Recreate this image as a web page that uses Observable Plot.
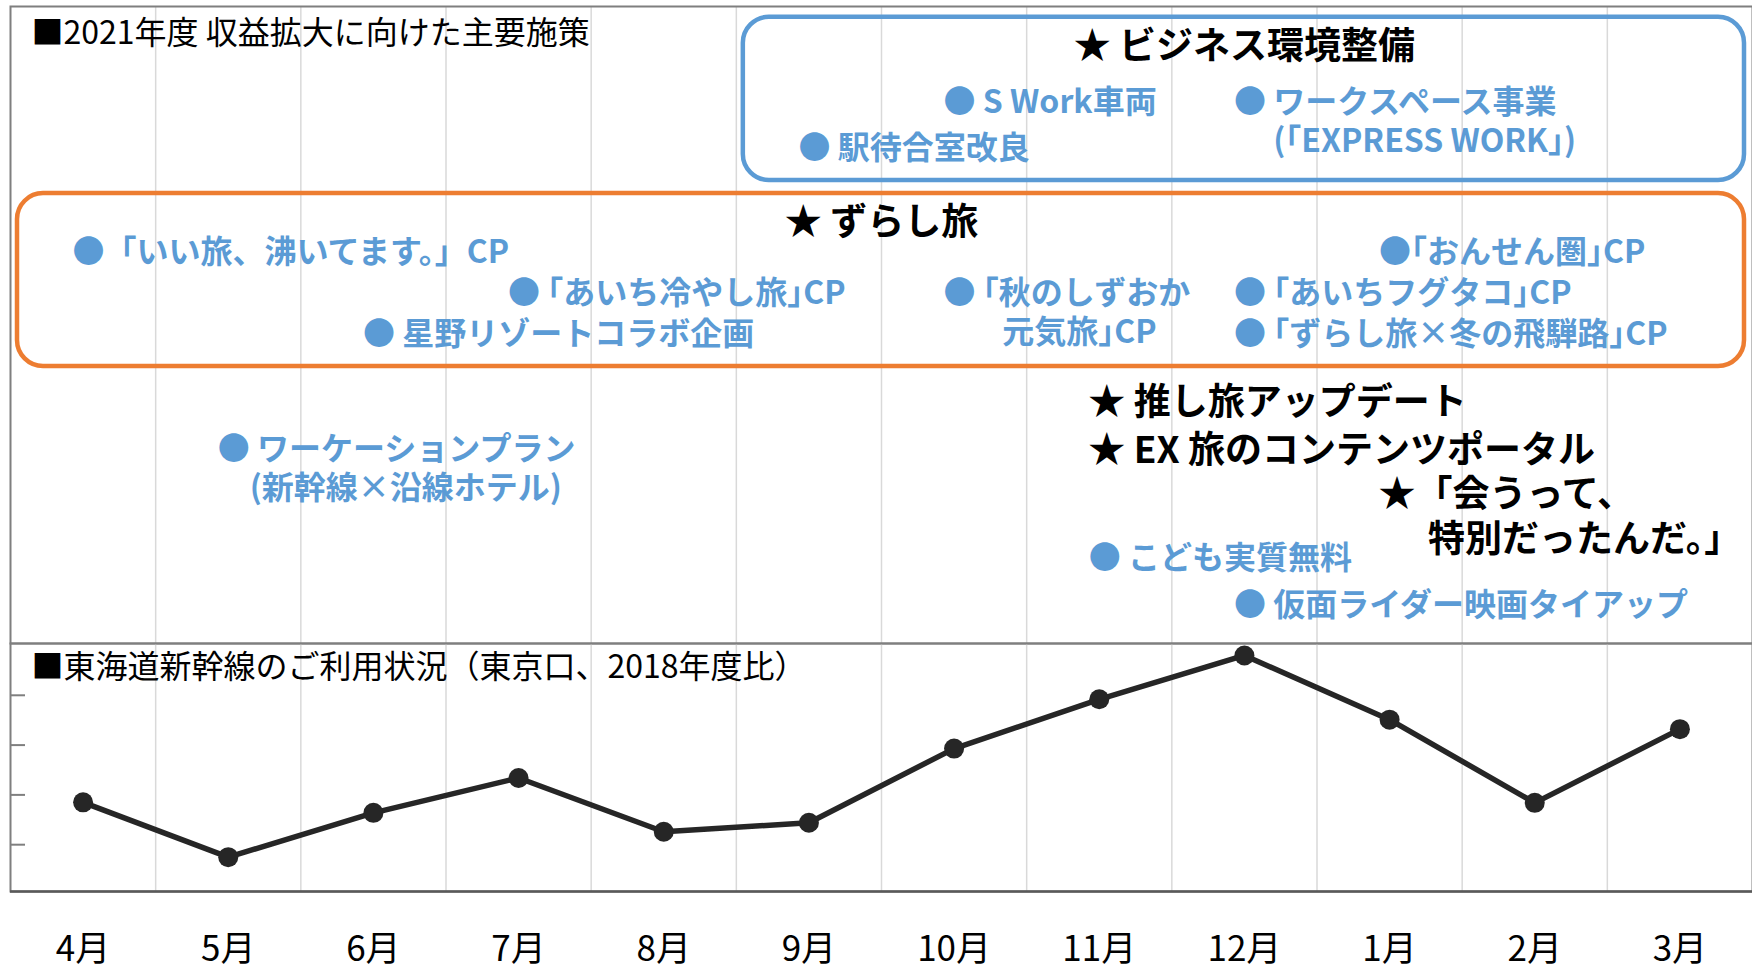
<!DOCTYPE html>
<html>
<head>
<meta charset="utf-8">
<script src="https://cdn.jsdelivr.net/npm/d3@7"></script>
<script src="https://cdn.jsdelivr.net/npm/@observablehq/plot@0.6"></script>
<style>
  html, body { margin: 0; padding: 0; background: #ffffff; }
  #chart { width: 1752px; }
  #chart svg { display: block; }
</style>
</head>
<body>
<div id="chart"></div>
<script>
// ---------------- data ----------------
const months = ["4月", "5月", "6月", "7月", "8月", "9月", "10月", "11月", "12月", "1月", "2月", "3月"];
// 東海道新幹線のご利用状況（東京口、2018年度比）
const usage = [38.5, 27.5, 36.4, 43.4, 32.6, 34.4, 49.3, 59.2, 68.0, 55.1, 38.4, 53.2];
const usageTicks = [30, 40, 50, 60];
const usageDomain = [20.6, 70.4];

const panelTitle = "■2021年度 収益拡大に向けた主要施策";
const chartTitle = "■東海道新幹線のご利用状況（東京口、2018年度比）";

// lane = row of the timeline panel (0 = top); two-line items use the middle of the block
const groupTitles = [
  {group: "business", text: "★ ビジネス環境整備", lane: 1.02},
  {group: "zurashi", text: "★ ずらし旅", lane: 5.45}
];
const businessItems = [
  {month: "10月", lane: 2.36, text: "● S Work車両", kind: "bullet"},
  {month: "12月", lane: 2.86, text: "● ワークスペース事業\n\u3000 (「EXPRESS WORK」)", kind: "bullet"},
  {month: "9月", lane: 3.51, text: "● 駅待合室改良", kind: "bullet"}
];
const zurashiItems = [
  {month: "4月", lane: 6.13, text: "●「いい旅、沸いてます。」CP", kind: "bullet"},
  {month: "1月", lane: 6.13, text: "●「おんせん圏」CP", kind: "bullet"},
  {month: "7月", lane: 7.16, text: "● 「あいち冷やし旅」CP", kind: "bullet"},
  {month: "10月", lane: 7.645, text: "● 「秋のしずおか\n\u3000\u2002\u2004元気旅」CP", kind: "bullet"},
  {month: "12月", lane: 7.16, text: "● 「あいちフグタコ」CP", kind: "bullet"},
  {month: "6月", lane: 8.18, text: "● 星野リゾートコラボ企画", kind: "bullet"},
  {month: "12月", lane: 8.18, text: "● 「ずらし旅×冬の飛騨路」CP", kind: "bullet"}
];
const otherItems = [
  {month: "11月", lane: 9.89, text: "★ 推し旅アップデート", kind: "star"},
  {month: "5月", lane: 11.555, text: "● ワーケーションプラン\n\u3000(新幹線×沿線ホテル)", kind: "bullet"},
  {month: "11月", lane: 11.1, text: "★ EX 旅のコンテンツポータル", kind: "star"},
  {month: "1月", lane: 12.765, text: "★「会うって、\n\u3000\u2004特別だったんだ。」", kind: "star"},
  {month: "11月", lane: 13.82, text: "● こども実質無料", kind: "bullet"},
  {month: "12月", lane: 14.99, text: "● 仮面ライダー映画タイアップ", kind: "bullet"}
];

// ---------------- styles ----------------
const blue = "#5B9BD5", orange = "#ED7D31", ink = "#000000";
const lineColor = "#262626", gridColor = "#D9D9D9", frameColor = "#7F7F7F";
const font = "'Noto Sans CJK JP', 'Noto Sans', sans-serif";
const W = 1752;

const idx = m => months.indexOf(m);
const xDomain = [-0.5, months.length - 0.5];
const gridX = months.slice(1).map((_, i) => i + 0.5);

const groupColor = {business: blue, zurashi: orange};
const groupItems = {business: businessItems, zurashi: zurashiItems};
const boxes = groupTitles.map(g => {
  const items = groupItems[g.group];
  const lanes = [g.lane, ...items.map(d => d.lane)];
  return {
    group: g.group, title: g.text, lane: g.lane,
    x1: d3.min(items, d => idx(d.month)) - 0.5,
    x2: xDomain[1],
    y1: d3.min(lanes) - 0.75,
    y2: d3.max(lanes) + 0.86
  };
});

const kindStyle = {
  star: {fill: ink, fontSize: 37, dx: -11},
  bullet: {fill: blue, fontSize: 32, dx: -10.5}
};
const allItems = [...businessItems, ...zurashiItems, ...otherItems];
const itemMarks = Object.keys(kindStyle).map(kind =>
  Plot.text(allItems.filter(d => d.kind === kind), {
    x: d => idx(d.month), y: "lane", text: "text",
    textAnchor: "start", lineAnchor: "middle", lineHeight: 1.22,
    fontWeight: "bold", fontFamily: font,
    ...kindStyle[kind]
  })
);

// ---------------- top panel: measures timeline ----------------
const topPlot = Plot.plot({
  width: W, height: 643,
  marginTop: 6, marginRight: 0, marginBottom: 0, marginLeft: 10,
  x: {domain: xDomain, axis: null},
  y: {domain: [0, 16], reverse: true, axis: null},
  style: {fontFamily: font, background: "transparent", overflow: "visible"},
  marks: [
    Plot.ruleX(gridX, {stroke: gridColor, strokeWidth: 1.5}),
    Plot.frame({stroke: frameColor, strokeWidth: 2}),
    ...boxes.map(b => Plot.rect([b], {
      x1: "x1", x2: "x2", y1: "y1", y2: "y2",
      rx: 26, insetLeft: 7, insetRight: 8,
      fill: "none", stroke: groupColor[b.group], strokeWidth: 4.5
    })),
    Plot.text(boxes, {
      x: d => (d.x1 + d.x2) / 2, y: "lane", text: "title",
      textAnchor: "middle", lineAnchor: "middle",
      fontSize: 37, fontWeight: "bold", fill: ink, fontFamily: font
    }),
    ...itemMarks,
    Plot.text([panelTitle], {
      frameAnchor: "top-left", dx: 21, dy: 27,
      textAnchor: "start", lineAnchor: "middle",
      fontSize: 32, fill: ink, fontFamily: font
    })
  ]
});

// campaign names "「…」CP" are set with half-width corner brackets in the original
d3.select(topPlot).selectAll("text")
  .filter(function () { return /」CP/.test(this.textContent) && !/、/.test(this.textContent); })
  .style("font-feature-settings", '"halt"');

// ---------------- bottom panel: usage line ----------------
const bottomPlot = Plot.plot({
  width: W, height: 327,
  marginTop: 0, marginRight: 0, marginBottom: 79, marginLeft: 10,
  x: {domain: xDomain, axis: null},
  y: {domain: usageDomain, axis: null},
  style: {fontFamily: font, fontSize: "35px", background: "transparent", overflow: "visible"},
  marks: [
    Plot.ruleX(gridX, {stroke: gridColor, strokeWidth: 1.5}),
    Plot.frame({stroke: frameColor, strokeWidth: 2}),
    Plot.ruleY([usageDomain[0]], {stroke: "#595959", strokeWidth: 2.5}),
    Plot.axisY(usageTicks, {
      anchor: "left", tickSize: -15, tickFormat: () => "",
      stroke: frameColor, strokeWidth: 2
    }),
    Plot.axisX(months.map((_, i) => i), {
      anchor: "bottom", tickSize: 0, tickPadding: 45,
      tickFormat: i => months[i], fontSize: 35, fill: ink
    }),
    Plot.line(usage, {x: (d, i) => i, y: d => d, stroke: lineColor, strokeWidth: 5.5}),
    Plot.dot(usage, {x: (d, i) => i, y: d => d, r: 10, fill: lineColor}),
    Plot.text([chartTitle], {
      frameAnchor: "top-left", dx: 21, dy: 24,
      textAnchor: "start", lineAnchor: "middle",
      fontSize: 32, fill: ink, fontFamily: font
    })
  ]
});

document.getElementById("chart").append(topPlot, bottomPlot);
</script>
</body>
</html>
